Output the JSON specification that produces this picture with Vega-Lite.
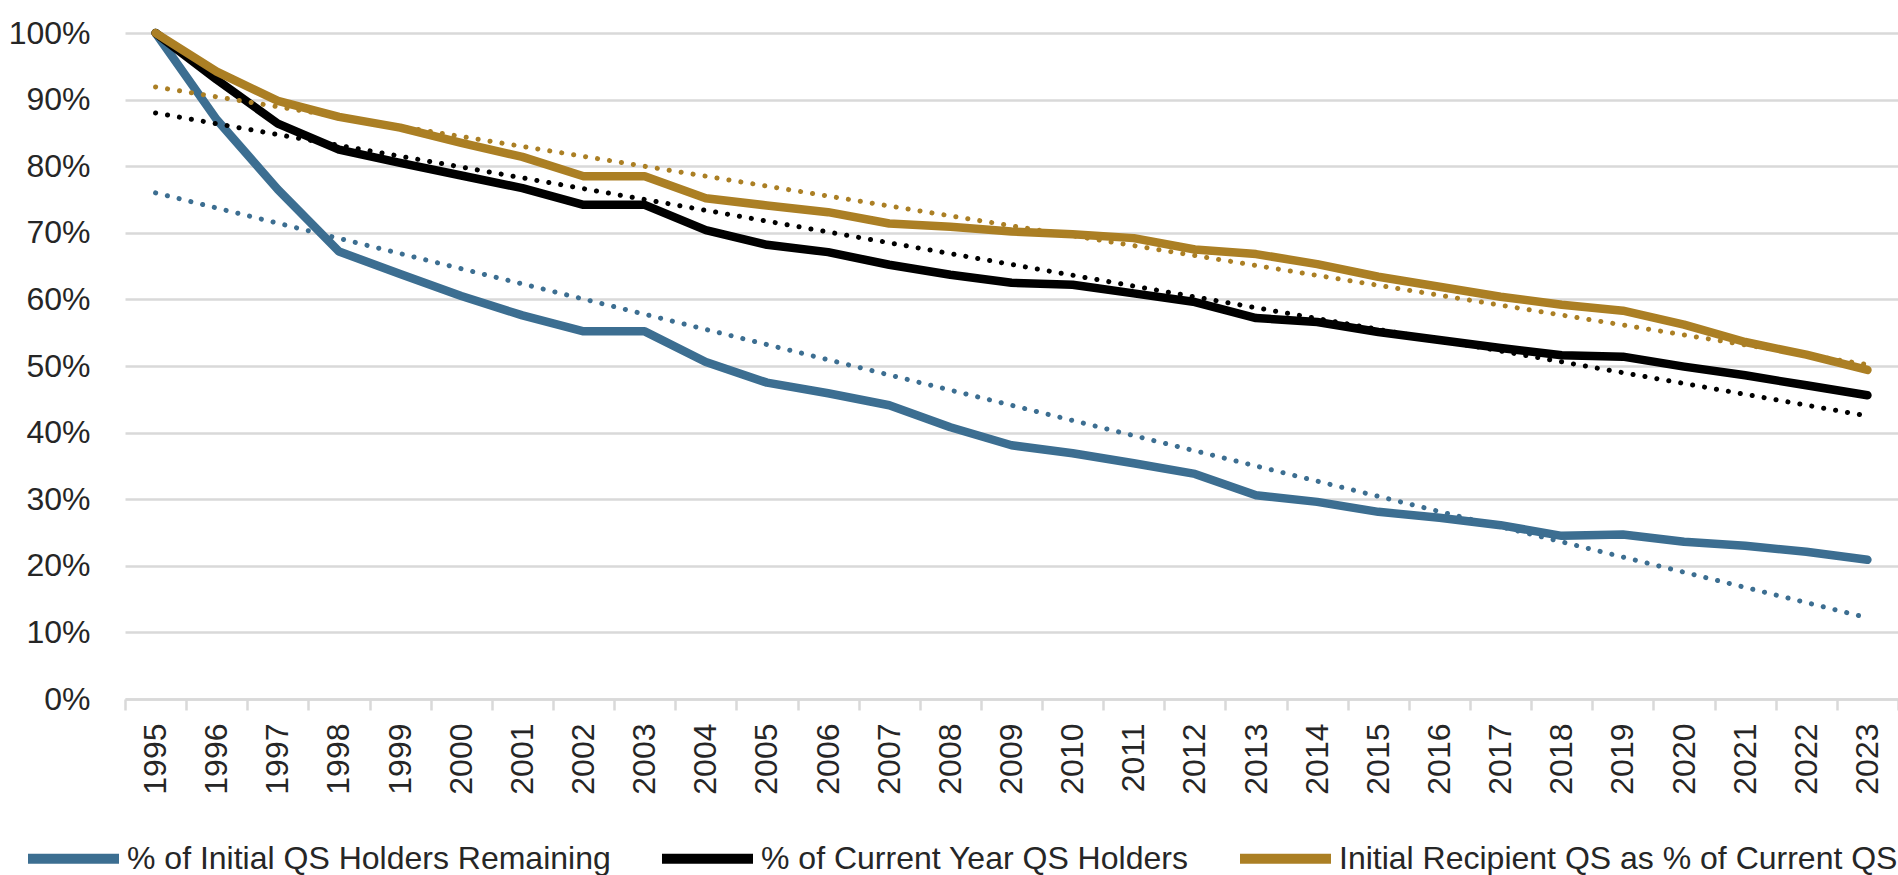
{
  "$schema": "https://vega.github.io/schema/vega-lite/v6.json",
  "width": 1773,
  "height": 666,
  "autosize": {"type": "none"},
  "padding": {"left": 125, "top": 33, "right": 0, "bottom": 176},
  "background": "white",
  "config": {
    "view": {"stroke": null},
    "font": "Liberation Sans",
    "legend": {
      "orient": "none",
      "legendX": -102,
      "legendY": 775,
      "direction": "horizontal",
      "symbolType": "stroke",
      "symbolSize": 8281,
      "symbolStrokeWidth": 10,
      "labelFontSize": 32,
      "labelFont": "Liberation Sans",
      "labelLimit": 1000,
      "labelOffset": 3,
      "columnPadding": 31,
      "labelColor": "#262626",
      "padding": 0
    }
  },
  "datasets": {
    "main": [
      {"year": "1995", "series": "% of Initial QS Holders Remaining", "value": 1.0},
      {"year": "1996", "series": "% of Initial QS Holders Remaining", "value": 0.87},
      {"year": "1997", "series": "% of Initial QS Holders Remaining", "value": 0.765},
      {"year": "1998", "series": "% of Initial QS Holders Remaining", "value": 0.672},
      {"year": "1999", "series": "% of Initial QS Holders Remaining", "value": 0.638},
      {"year": "2000", "series": "% of Initial QS Holders Remaining", "value": 0.605},
      {"year": "2001", "series": "% of Initial QS Holders Remaining", "value": 0.576},
      {"year": "2002", "series": "% of Initial QS Holders Remaining", "value": 0.552},
      {"year": "2003", "series": "% of Initial QS Holders Remaining", "value": 0.552},
      {"year": "2004", "series": "% of Initial QS Holders Remaining", "value": 0.506},
      {"year": "2005", "series": "% of Initial QS Holders Remaining", "value": 0.475},
      {"year": "2006", "series": "% of Initial QS Holders Remaining", "value": 0.459},
      {"year": "2007", "series": "% of Initial QS Holders Remaining", "value": 0.441},
      {"year": "2008", "series": "% of Initial QS Holders Remaining", "value": 0.408},
      {"year": "2009", "series": "% of Initial QS Holders Remaining", "value": 0.381},
      {"year": "2010", "series": "% of Initial QS Holders Remaining", "value": 0.369},
      {"year": "2011", "series": "% of Initial QS Holders Remaining", "value": 0.354},
      {"year": "2012", "series": "% of Initial QS Holders Remaining", "value": 0.338},
      {"year": "2013", "series": "% of Initial QS Holders Remaining", "value": 0.306},
      {"year": "2014", "series": "% of Initial QS Holders Remaining", "value": 0.296},
      {"year": "2015", "series": "% of Initial QS Holders Remaining", "value": 0.281},
      {"year": "2016", "series": "% of Initial QS Holders Remaining", "value": 0.272},
      {"year": "2017", "series": "% of Initial QS Holders Remaining", "value": 0.261},
      {"year": "2018", "series": "% of Initial QS Holders Remaining", "value": 0.245},
      {"year": "2019", "series": "% of Initial QS Holders Remaining", "value": 0.247},
      {"year": "2020", "series": "% of Initial QS Holders Remaining", "value": 0.236},
      {"year": "2021", "series": "% of Initial QS Holders Remaining", "value": 0.23},
      {"year": "2022", "series": "% of Initial QS Holders Remaining", "value": 0.221},
      {"year": "2023", "series": "% of Initial QS Holders Remaining", "value": 0.209},
      {"year": "1995", "series": "% of Current Year QS Holders", "value": 1.0},
      {"year": "1996", "series": "% of Current Year QS Holders", "value": 0.93},
      {"year": "1997", "series": "% of Current Year QS Holders", "value": 0.864},
      {"year": "1998", "series": "% of Current Year QS Holders", "value": 0.825},
      {"year": "1999", "series": "% of Current Year QS Holders", "value": 0.805},
      {"year": "2000", "series": "% of Current Year QS Holders", "value": 0.786},
      {"year": "2001", "series": "% of Current Year QS Holders", "value": 0.767},
      {"year": "2002", "series": "% of Current Year QS Holders", "value": 0.742},
      {"year": "2003", "series": "% of Current Year QS Holders", "value": 0.742},
      {"year": "2004", "series": "% of Current Year QS Holders", "value": 0.704},
      {"year": "2005", "series": "% of Current Year QS Holders", "value": 0.682},
      {"year": "2006", "series": "% of Current Year QS Holders", "value": 0.671},
      {"year": "2007", "series": "% of Current Year QS Holders", "value": 0.652},
      {"year": "2008", "series": "% of Current Year QS Holders", "value": 0.637},
      {"year": "2009", "series": "% of Current Year QS Holders", "value": 0.625},
      {"year": "2010", "series": "% of Current Year QS Holders", "value": 0.622},
      {"year": "2011", "series": "% of Current Year QS Holders", "value": 0.609},
      {"year": "2012", "series": "% of Current Year QS Holders", "value": 0.596},
      {"year": "2013", "series": "% of Current Year QS Holders", "value": 0.572},
      {"year": "2014", "series": "% of Current Year QS Holders", "value": 0.566},
      {"year": "2015", "series": "% of Current Year QS Holders", "value": 0.551},
      {"year": "2016", "series": "% of Current Year QS Holders", "value": 0.539},
      {"year": "2017", "series": "% of Current Year QS Holders", "value": 0.527},
      {"year": "2018", "series": "% of Current Year QS Holders", "value": 0.516},
      {"year": "2019", "series": "% of Current Year QS Holders", "value": 0.514},
      {"year": "2020", "series": "% of Current Year QS Holders", "value": 0.499},
      {"year": "2021", "series": "% of Current Year QS Holders", "value": 0.486},
      {"year": "2022", "series": "% of Current Year QS Holders", "value": 0.471},
      {"year": "2023", "series": "% of Current Year QS Holders", "value": 0.456},
      {"year": "1995", "series": "Initial Recipient QS as % of Current QS", "value": 1.0},
      {"year": "1996", "series": "Initial Recipient QS as % of Current QS", "value": 0.942},
      {"year": "1997", "series": "Initial Recipient QS as % of Current QS", "value": 0.898},
      {"year": "1998", "series": "Initial Recipient QS as % of Current QS", "value": 0.874},
      {"year": "1999", "series": "Initial Recipient QS as % of Current QS", "value": 0.858},
      {"year": "2000", "series": "Initial Recipient QS as % of Current QS", "value": 0.835},
      {"year": "2001", "series": "Initial Recipient QS as % of Current QS", "value": 0.814},
      {"year": "2002", "series": "Initial Recipient QS as % of Current QS", "value": 0.785},
      {"year": "2003", "series": "Initial Recipient QS as % of Current QS", "value": 0.785},
      {"year": "2004", "series": "Initial Recipient QS as % of Current QS", "value": 0.752},
      {"year": "2005", "series": "Initial Recipient QS as % of Current QS", "value": 0.741},
      {"year": "2006", "series": "Initial Recipient QS as % of Current QS", "value": 0.731},
      {"year": "2007", "series": "Initial Recipient QS as % of Current QS", "value": 0.714},
      {"year": "2008", "series": "Initial Recipient QS as % of Current QS", "value": 0.709},
      {"year": "2009", "series": "Initial Recipient QS as % of Current QS", "value": 0.702},
      {"year": "2010", "series": "Initial Recipient QS as % of Current QS", "value": 0.698},
      {"year": "2011", "series": "Initial Recipient QS as % of Current QS", "value": 0.692},
      {"year": "2012", "series": "Initial Recipient QS as % of Current QS", "value": 0.675},
      {"year": "2013", "series": "Initial Recipient QS as % of Current QS", "value": 0.668},
      {"year": "2014", "series": "Initial Recipient QS as % of Current QS", "value": 0.653},
      {"year": "2015", "series": "Initial Recipient QS as % of Current QS", "value": 0.634},
      {"year": "2016", "series": "Initial Recipient QS as % of Current QS", "value": 0.619},
      {"year": "2017", "series": "Initial Recipient QS as % of Current QS", "value": 0.604},
      {"year": "2018", "series": "Initial Recipient QS as % of Current QS", "value": 0.592},
      {"year": "2019", "series": "Initial Recipient QS as % of Current QS", "value": 0.583},
      {"year": "2020", "series": "Initial Recipient QS as % of Current QS", "value": 0.562},
      {"year": "2021", "series": "Initial Recipient QS as % of Current QS", "value": 0.536},
      {"year": "2022", "series": "Initial Recipient QS as % of Current QS", "value": 0.517},
      {"year": "2023", "series": "Initial Recipient QS as % of Current QS", "value": 0.494}
    ],
    "trend": [
      {"year": "1995", "series": "% of Initial QS Holders Remaining", "value": 0.76},
      {"year": "2023", "series": "% of Initial QS Holders Remaining", "value": 0.122},
      {"year": "1995", "series": "% of Current Year QS Holders", "value": 0.88},
      {"year": "2023", "series": "% of Current Year QS Holders", "value": 0.425},
      {"year": "1995", "series": "Initial Recipient QS as % of Current QS", "value": 0.919},
      {"year": "2023", "series": "Initial Recipient QS as % of Current QS", "value": 0.502}
    ]
  },
  "encoding": {
    "x": {
      "field": "year",
      "type": "ordinal",
      "bandPosition": 0.5,
      "scale": {"type": "band", "paddingInner": 0, "paddingOuter": 0},
      "axis": {
        "title": null,
        "labelAngle": -90,
        "labelFontSize": 32,
        "labelFont": "Liberation Sans",
        "labelColor": "#262626",
        "labelPadding": 13,
        "tickBand": "extent",
        "tickSize": 11,
        "tickWidth": 2.5,
        "tickColor": "#d9d9d9",
        "domainColor": "#d9d9d9",
        "domainWidth": 2.5,
        "grid": false
      }
    },
    "y": {
      "field": "value",
      "type": "quantitative",
      "scale": {"domain": [0, 1], "nice": false},
      "axis": {
        "title": null,
        "values": [0, 0.1, 0.2, 0.3, 0.4, 0.5, 0.6, 0.7, 0.8, 0.9, 1.0],
        "format": ".0%",
        "labelFontSize": 32,
        "labelFont": "Liberation Sans",
        "labelColor": "#262626",
        "labelPadding": 35,
        "ticks": false,
        "domain": false,
        "grid": true,
        "gridColor": "#d9d9d9",
        "gridWidth": 2.5
      }
    }
  },
  "layer": [
    {
      "data": {"name": "main"},
      "mark": {"type": "line", "strokeWidth": 8.5, "strokeCap": "round", "strokeJoin": "round"},
      "encoding": {
        "color": {
          "field": "series",
          "type": "nominal",
          "sort": ["% of Initial QS Holders Remaining", "% of Current Year QS Holders", "Initial Recipient QS as % of Current QS"],
          "scale": {
            "domain": ["% of Initial QS Holders Remaining", "% of Current Year QS Holders", "Initial Recipient QS as % of Current QS"],
            "range": ["#3c6e91", "#000000", "#ab7f24"]
          },
          "legend": {"title": null}
        }
      }
    },
    {
      "data": {"name": "trend"},
      "mark": {"type": "line", "strokeWidth": 5, "strokeDash": [0.1, 12], "strokeCap": "round"},
      "encoding": {
        "color": {"field": "series", "type": "nominal", "legend": null}
      }
    }
  ]
}
